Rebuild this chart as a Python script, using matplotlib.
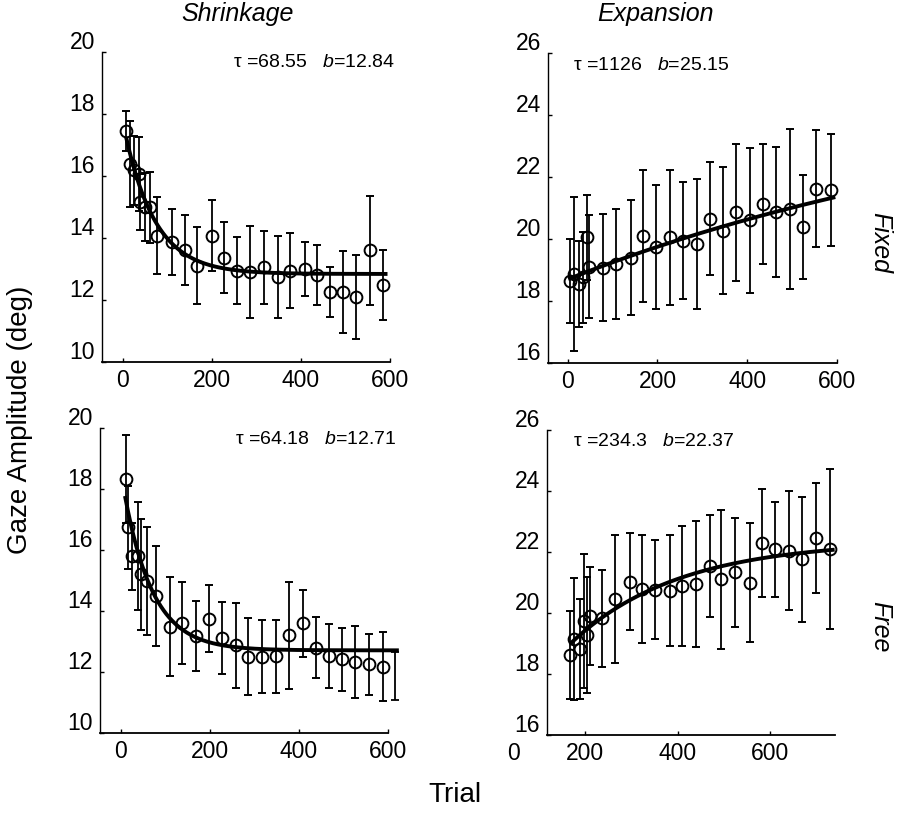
import numpy as np
import matplotlib
matplotlib.use('Agg')
from matplotlib import pyplot as plt
from matplotlib.transforms import ScaledTranslation

plt.rcParams['font.family'] = ['Liberation Sans', 'DejaVu Sans']
plt.rcParams['mathtext.fontset'] = 'custom'
plt.rcParams['mathtext.rm'] = 'Liberation Sans'
plt.rcParams['mathtext.it'] = 'Liberation Sans:italic'

# Shrinkage / Fixed
sf_x = [7, 15, 25, 35, 39, 50, 61, 76, 110, 140, 166, 200, 226, 256, 286, 317,
        349, 375, 409, 435, 465, 495, 524, 555, 585]
sf_y = [17.46, 16.39, 16.18, 16.07, 15.15, 14.99, 14.99, 14.08, 13.87, 13.6, 13.11,
        14.08, 13.36, 12.95, 12.9, 13.06, 12.74, 12.95, 13.0, 12.8, 12.26, 12.26,
        12.1, 13.6, 12.47]
sf_sd = [0.65, 1.4, 1.1, 1.2, 0.9, 1.1, 1.15, 1.25, 1.05, 1.13, 1.24, 1.13, 1.15,
         1.08, 1.48, 1.18, 1.32, 1.21, 0.86, 0.97, 0.8, 1.32, 1.35, 1.77, 1.13]

# Expansion / Fixed
ef_x = [4, 15, 26, 34, 42, 48, 78, 108, 140, 168, 197, 227, 256, 287, 317, 345,
        376, 406, 436, 464, 496, 525, 554, 587]
ef_y = [18.65, 18.86, 18.54, 18.76, 20.05, 19.1, 19.08, 19.19, 19.4, 20.1, 19.73,
        20.05, 19.95, 19.84, 20.65, 20.27, 20.86, 20.6, 21.13, 20.86, 20.97, 20.38,
        21.62, 21.57]
ef_sd = [1.35, 2.48, 1.38, 1.48, 1.37, 1.66, 1.73, 1.77, 1.85, 2.12, 2.0, 2.18, 1.9,
         2.1, 1.82, 2.05, 2.22, 2.34, 1.95, 2.1, 2.57, 1.67, 1.89, 1.81]

# Shrinkage / Free
sr_x = [10.5, 16.5, 25.5, 39, 46, 58, 79, 110, 138, 168, 197, 227, 258, 286.5,
        316.5, 348, 376.5, 408, 438, 466.5, 496.5, 526.5, 556.5, 588]
sr_y = [18.33, 16.74, 15.8, 15.8, 15.2, 14.99, 14.49, 13.48, 13.6, 13.18, 13.75,
        13.12, 12.87, 12.5, 12.5, 12.52, 13.2, 13.6, 12.8, 12.52, 12.41, 12.32,
        12.25, 12.17]
sr_sd = [1.45, 1.37, 1.1, 1.78, 1.81, 1.78, 1.65, 1.62, 1.34, 1.15, 1.1, 1.18, 1.4,
         1.27, 1.2, 1.2, 1.75, 1.1, 1.0, 1.04, 1.02, 1.18, 0.99, 1.13]
sr_end = (616, 12.67, 1.6)  # lone bar at right end, no marker

# Expansion / Free
er_x = [167.6, 174.8, 187.7, 198, 203.6, 210.8, 236, 264.9, 295.8, 322.6, 351.4,
        382.3, 409.1, 440, 468.8, 493.3, 524.3, 555.2, 582, 610.8, 639.6, 668.5,
        699.5, 729.7]
er_y = [18.62, 19.15, 18.82, 19.74, 19.28, 19.9, 19.82, 20.45, 21.03, 20.78, 20.76,
        20.73, 20.89, 20.94, 21.54, 21.1, 21.33, 21.0, 22.29, 22.09, 22.04, 21.76,
        22.47, 22.09]
er_sd = [1.45, 2.0, 1.65, 2.2, 1.9, 1.6, 1.58, 2.1, 1.58, 1.77, 1.62, 1.82, 1.97,
         2.07, 1.68, 2.29, 1.8, 1.94, 1.77, 1.55, 1.95, 2.05, 1.8, 2.63]

# exponential fits: y = b + amp*exp(-x/tau)
fit_tau = [68.55, 1126, 64.18, 234.3]
fit_b = [12.84, 25.15, 12.71, 22.37]
fit_amp = [4.9, -6.45, 5.84, -6.9]
fit_range = [(8, 590), (5, 592), (10, 620), (170, 735)]
fit_text = [u'\u03c4 =68.55   $b$=12.84', u'\u03c4 =1126   $b$=25.15',
            u'\u03c4 =64.18   $b$=12.71', u'\u03c4 =234.3   $b$=22.37']

W, H = 905.0, 818.0
fig = plt.figure(figsize=(9.05, 8.18), dpi=100)

def rect(l, t, r, b):
    return [l / W, 1 - b / H, (r - l) / W, (b - t) / H]

axes = [fig.add_axes(rect(102, 52, 390, 362)),
        fig.add_axes(rect(548, 53, 837, 363)),
        fig.add_axes(rect(100, 428, 388, 733)),
        fig.add_axes(rect(547, 430, 835, 735))]
data = [(sf_x, sf_y, sf_sd), (ef_x, ef_y, ef_sd), (sr_x, sr_y, sr_sd), (er_x, er_y, er_sd)]
xlims = [(-47, 600), (-44, 600), (-47, 600), (117, 740)]
ylims = [(10, 20), (16, 26), (10, 20), (16, 26)]
txt_pos = [(1.017, 0.965, 'right'), (0.087, 0.961, 'left'),
           (1.031, 0.961, 'right'), (0.09, 0.962, 'left')]

for i, ax in enumerate(axes):
    x, y, sd = data[i]
    ax.errorbar(x, y, yerr=sd, fmt='o', ms=8.5, mfc='none', mec='k', mew=1.4,
                ecolor='k', elinewidth=1.3, capsize=3, capthick=1.3, clip_on=False)
    xs = np.linspace(fit_range[i][0], fit_range[i][1], 200)
    ax.plot(xs, fit_b[i] + fit_amp[i] * np.exp(-xs / fit_tau[i]), 'k-', lw=2.8,
            clip_on=False)
    ax.set_xlim(xlims[i])
    ax.set_ylim(ylims[i])
    ax.set_xticks([0, 200, 400, 600] if i < 3 else [200, 400, 600])
    ax.set_yticks(np.arange(ylims[i][0], ylims[i][1] + 1, 2))
    for s in ['top', 'right']:
        ax.spines[s].set_visible(False)
    ax.spines['left'].set_linewidth(1.0)
    ax.spines['bottom'].set_linewidth(1.3)
    ax.tick_params(direction='in', length=3, width=1, labelsize=16.5, pad=5)
    off = ScaledTranslation(0, 12 / 100.0, fig.dpi_scale_trans)
    for t in ax.yaxis.get_major_ticks():
        t.label1.set_transform(t.label1.get_transform() + off)
    tx, ty, ha = txt_pos[i]
    ax.text(tx, ty, fit_text[i], transform=ax.transAxes, ha=ha, va='center',
            fontsize=14)

axes[2].errorbar([sr_end[0]], [sr_end[1]], yerr=[[sr_end[2]], [0]], fmt='none',
                 ecolor='k', elinewidth=1.3, capsize=3, capthick=1.3, clip_on=False)

# stray "0" label on the lower right axis
fig.text(513 / W, 1 - 753 / H, '0', fontsize=16.5, ha='center', va='center')

fig.text(237 / W, 1 - 14 / H, 'Shrinkage', fontsize=18, style='italic', ha='center', va='center')
fig.text(655 / W, 1 - 14 / H, 'Expansion', fontsize=18, style='italic', ha='center', va='center')
fig.text(880 / W, 1 - 243 / H, 'Fixed', fontsize=18, style='italic', rotation=-90,
         ha='center', va='center')
fig.text(880 / W, 1 - 627 / H, 'Free', fontsize=18, style='italic', rotation=-90,
         ha='center', va='center')
fig.text(20 / W, 1 - 420 / H, 'Gaze Amplitude (deg)', fontsize=20, rotation=90,
         ha='center', va='center')
fig.text(455 / W, 1 - 795 / H, 'Trial', fontsize=20, ha='center', va='center')

plt.savefig('out.png', dpi=100)
